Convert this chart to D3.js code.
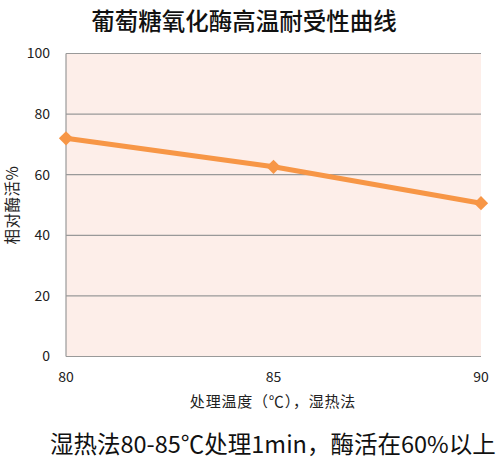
<!DOCTYPE html>
<html>
<head>
<meta charset="utf-8">
<script src="https://cdn.jsdelivr.net/npm/d3@7"></script>
<style>
  body { margin: 0; background: #fff; }
  text { font-family: "Noto Sans CJK SC", "Noto Sans", sans-serif; }
</style>
</head>
<body>
<svg width="500" height="461"></svg>
<script>
const temps = [80, 85, 90];
const activity = [72.0, 62.6, 50.6];
const yTicks = [0, 20, 40, 60, 80, 100];

const svg = d3.select("svg");
const plotL = 66, plotR = 481, plotT = 53.5, plotB = 356.5;

const x = d3.scaleLinear().domain([80, 90]).range([plotL, plotR]);
const y = d3.scaleLinear().domain([0, 100]).range([plotB, plotT]);

// plot background
svg.append("rect")
  .attr("x", plotL).attr("y", plotT)
  .attr("width", plotR - plotL).attr("height", plotB - plotT)
  .attr("fill", "#fdeee9");

// gridlines
svg.append("g")
  .selectAll("line")
  .data(yTicks)
  .join("line")
  .attr("x1", plotL).attr("x2", plotR)
  .attr("y1", d => y(d)).attr("y2", d => y(d))
  .attr("stroke", "#999").attr("stroke-width", 1.2);

// left axis line
svg.append("line")
  .attr("x1", plotL).attr("x2", plotL)
  .attr("y1", plotT).attr("y2", plotB)
  .attr("stroke", "#999").attr("stroke-width", 1.2);

// y tick labels
svg.append("g")
  .selectAll("text")
  .data(yTicks)
  .join("text")
  .attr("x", 50).attr("y", d => y(d))
  .attr("dy", "0.35em")
  .attr("text-anchor", "end")
  .attr("font-size", 14)
  .attr("fill", "#222")
  .text(d => d);

// x tick labels
svg.append("g")
  .selectAll("text")
  .data(temps)
  .join("text")
  .attr("x", d => x(d)).attr("y", 382)
  .attr("text-anchor", "middle")
  .attr("font-size", 14)
  .attr("fill", "#222")
  .text(d => d);

// line
const pts = temps.map((t, i) => [t, activity[i]]);
svg.append("path")
  .datum(pts)
  .attr("fill", "none")
  .attr("stroke", "#f79646")
  .attr("stroke-width", 5)
  .attr("d", d3.line().x(d => x(d[0])).y(d => y(d[1])));

svg.append("g")
  .selectAll("path")
  .data(pts)
  .join("path")
  .attr("transform", d => `translate(${x(d[0])},${y(d[1])})`)
  .attr("d", d3.symbol(d3.symbolDiamond2, 130))
  .attr("fill", "#f79646");

// title
svg.append("text")
  .attr("x", 244).attr("y", 30)
  .attr("text-anchor", "middle")
  .attr("font-size", 23.5)
  .attr("font-weight", 500)
  .attr("fill", "#111")
  .text("葡萄糖氧化酶高温耐受性曲线");

// axis titles
svg.append("text")
  .attr("x", 273).attr("y", 407)
  .attr("text-anchor", "middle")
  .attr("font-size", 15)
  .attr("letter-spacing", 0.8)
  .attr("fill", "#222")
  .text("处理温度（℃），湿热法");

svg.append("text")
  .attr("transform", "translate(18,205) rotate(-90)")
  .attr("text-anchor", "middle")
  .attr("font-size", 15.5)
  .attr("letter-spacing", 0.5)
  .attr("fill", "#222")
  .text("相对酶活%");

// caption
svg.append("text")
  .attr("x", 50).attr("y", 453)
  .attr("font-size", 23.5)
  .attr("fill", "#111")
  .text("湿热法80-85℃处理1min，酶活在60%以上");
</script>
</body>
</html>
